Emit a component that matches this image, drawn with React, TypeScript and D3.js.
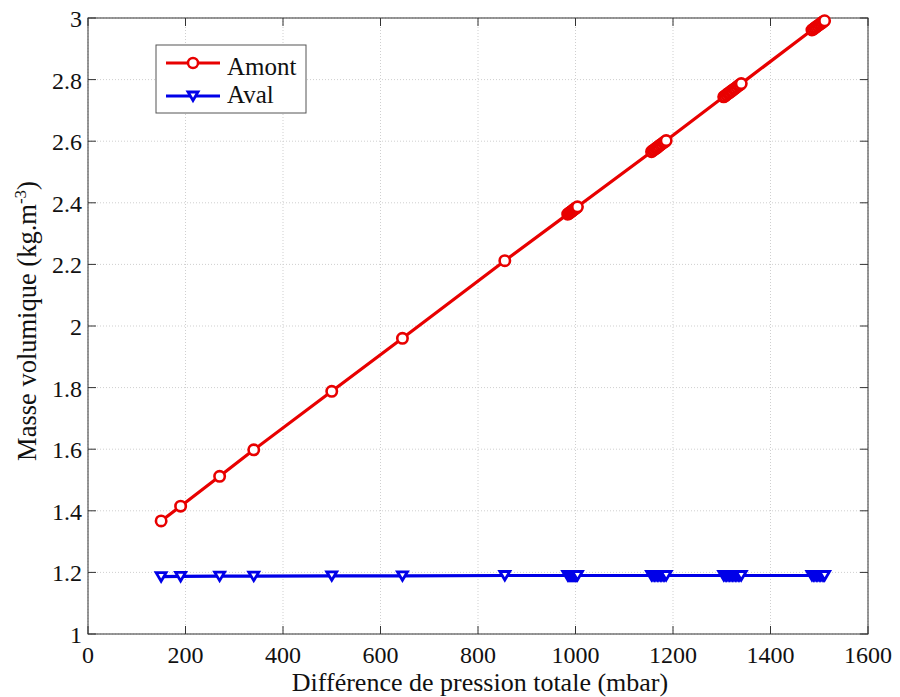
import React from "react";
import * as d3 from "d3";

const pressure: number[] = [150, 190, 270, 340, 500, 645, 855,
  984, 986, 988, 990, 992, 994, 996, 998, 1000, 1002, 1004,
  1156, 1159, 1162, 1165, 1168, 1171, 1174, 1177, 1180, 1183, 1186,
  1304, 1307, 1310, 1313, 1316, 1319, 1322, 1325, 1328, 1331, 1334, 1337, 1340,
  1485, 1488, 1491, 1494, 1497, 1500, 1503, 1506, 1509, 1511];
const amont: number[] = [1.367, 1.415, 1.512, 1.598, 1.788, 1.960, 2.212,
  2.363, 2.365, 2.368, 2.370, 2.372, 2.375, 2.377, 2.380, 2.382, 2.384, 2.387,
  2.566, 2.570, 2.573, 2.577, 2.580, 2.584, 2.588, 2.591, 2.595, 2.598, 2.602,
  2.744, 2.747, 2.751, 2.755, 2.758, 2.762, 2.765, 2.769, 2.772, 2.776, 2.780, 2.783, 2.787,
  2.961, 2.964, 2.968, 2.971, 2.975, 2.978, 2.982, 2.985, 2.989, 2.991];
const avalVals: number[] = [1.186, 1.187, 1.188, 1.188, 1.189, 1.189, 1.19,
  1.19, 1.19, 1.19, 1.19, 1.19, 1.19, 1.19, 1.19, 1.19, 1.19, 1.19,
  1.19, 1.19, 1.19, 1.19, 1.19, 1.19, 1.19, 1.19, 1.19, 1.19, 1.19,
  1.19, 1.19, 1.19, 1.19, 1.19, 1.19, 1.19, 1.19, 1.19, 1.19, 1.19, 1.19, 1.19,
  1.19, 1.19, 1.19, 1.19, 1.19, 1.19, 1.19, 1.19, 1.19, 1.19];
const xTicks: number[] = [0, 200, 400, 600, 800, 1000, 1200, 1400, 1600];
const yTicks: number[] = [1, 1.2, 1.4, 1.6, 1.8, 2, 2.2, 2.4, 2.6, 2.8, 3];
const seriesNames: string[] = ["Amont", "Aval"];

export default function App() {
  const W = 900, H = 697;
  const left = 88, right = 868, top = 18, bottom = 634;
  const x = d3.scaleLinear().domain([0, 1600]).range([left, right]);
  const y = d3.scaleLinear().domain([1, 3]).range([bottom, top]);
  const line = d3.line<[number, number]>().x(d => x(d[0])).y(d => y(d[1]));
  const aData: [number, number][] = pressure.map((p, i) => [p, amont[i]]);
  const vData: [number, number][] = pressure.map((p, i) => [p, avalVals[i]]);
  const ff = "Liberation Serif";
  const red = "#e80000", blue = "#0000e8";
  const tri = (cx: number, cy: number, s: number) =>
    `M${cx - s},${cy - s * 0.8}L${cx + s},${cy - s * 0.8}L${cx},${cy + s * 0.9}Z`;
  return (
    <svg width={W} height={H} style={{ position: "absolute", left: 0, top: 0, background: "#fff" }}>
      <rect x={0} y={0} width={W} height={H} fill="#fff" />
      {xTicks.map(t => (
        <line key={"gx" + t} x1={x(t)} x2={x(t)} y1={top} y2={bottom} stroke="#cfcfcf" strokeWidth={1} strokeDasharray="1,2" />
      ))}
      {yTicks.map(t => (
        <line key={"gy" + t} x1={left} x2={right} y1={y(t)} y2={y(t)} stroke="#cfcfcf" strokeWidth={1} strokeDasharray="1,2" />
      ))}
      {xTicks.map(t => (
        <g key={"tx" + t}>
          <line x1={x(t)} x2={x(t)} y1={bottom} y2={bottom - 8} stroke="#333" />
          <line x1={x(t)} x2={x(t)} y1={top} y2={top + 8} stroke="#333" />
          <text x={x(t)} y={bottom + 29} textAnchor="middle" fontFamily={ff} fontSize={24} fill="#111">{t}</text>
        </g>
      ))}
      {yTicks.map(t => (
        <g key={"ty" + t}>
          <line x1={left} x2={left + 8} y1={y(t)} y2={y(t)} stroke="#333" />
          <line x1={right} x2={right - 8} y1={y(t)} y2={y(t)} stroke="#333" />
          <text x={left - 6} y={y(t) + 9} textAnchor="end" fontFamily={ff} fontSize={24} fill="#111">{String(t)}</text>
        </g>
      ))}
      <rect x={left} y={top} width={right - left} height={bottom - top} fill="none" stroke="#333" strokeWidth={1} />
      <path d={line(aData) || ""} fill="none" stroke={red} strokeWidth={3.2} />
      {aData.map((d, i) => (
        <circle key={"a" + i} cx={x(d[0])} cy={y(d[1])} r={5.2} fill="#fff" stroke={red} strokeWidth={2.6} />
      ))}
      <path d={line(vData) || ""} fill="none" stroke={blue} strokeWidth={3.2} />
      {vData.map((d, i) => (
        <path key={"v" + i} d={tri(x(d[0]), y(d[1]), 5)} fill="#fff" stroke={blue} strokeWidth={2.8} />
      ))}
      <g>
        <rect x={156} y={45} width={150} height={68} fill="#fff" stroke="#555" strokeWidth={1} />
        <line x1={166} x2={220} y1={63} y2={63} stroke={red} strokeWidth={3.2} />
        <circle cx={193} cy={63} r={5} fill="#fff" stroke={red} strokeWidth={2.5} />
        <text x={227} y={75} fontFamily={ff} fontSize={25} fill="#111">{seriesNames[0]}</text>
        <line x1={166} x2={220} y1={96} y2={96} stroke={blue} strokeWidth={3.2} />
        <path d={tri(193, 96, 5)} fill="#fff" stroke={blue} strokeWidth={2.8} />
        <text x={227} y={103} fontFamily={ff} fontSize={25} fill="#111">{seriesNames[1]}</text>
      </g>
      <text x={480} y={691} textAnchor="middle" fontFamily={ff} fontSize={26} fill="#111">Différence de pression totale (mbar)</text>
      <text transform={`translate(36,321) rotate(-90)`} textAnchor="middle" fontFamily={ff} fontSize={26.5} fill="#111">
        Masse volumique (kg.m<tspan dy={-10} fontSize={17}>-3</tspan><tspan dy={10}>)</tspan>
      </text>
    </svg>
  );
}
